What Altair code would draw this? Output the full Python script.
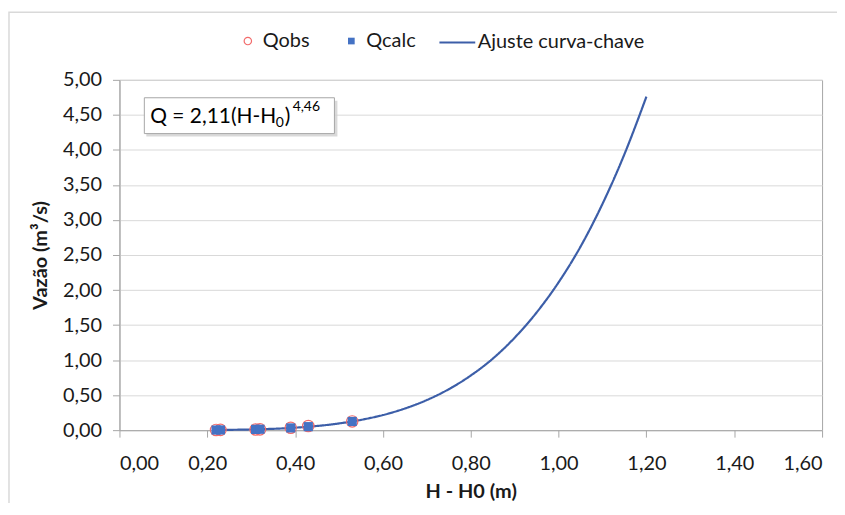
import altair as alt
import pandas as pd

# Observed / calculated points
H_pts = [0.22, 0.23, 0.31, 0.32, 0.39, 0.43, 0.53]
Q_obs = [0.003, 0.004, 0.009, 0.011, 0.035, 0.060, 0.125]
Q_calc = [0.002, 0.003, 0.011, 0.013, 0.032, 0.050, 0.124]

# Fitted rating curve
H_fit = [0.22, 0.30, 0.40, 0.50, 0.55, 0.60, 0.65, 0.70, 0.75, 0.80,
         0.85, 0.90, 0.95, 1.00, 1.05, 1.10, 1.15, 1.20]
Q_fit = [0.003, 0.010, 0.035, 0.096, 0.147, 0.216, 0.309, 0.430, 0.585, 0.780,
         1.02, 1.32, 1.68, 2.11, 2.62, 3.23, 3.94, 4.76]

x_ticks = [0, 0.2, 0.4, 0.6, 0.8, 1.0, 1.2, 1.4, 1.6]
y_ticks = [0, 0.5, 1, 1.5, 2, 2.5, 3, 3.5, 4, 4.5, 5]

obs = pd.DataFrame({"H": H_pts, "Q": Q_obs, "serie": ["Qobs"] * len(H_pts)})
calc = pd.DataFrame({"H": H_pts, "Q": Q_calc, "serie": ["Qcalc"] * len(H_pts)})
fit = pd.DataFrame({"H": H_fit, "Q": Q_fit, "serie": ["Ajuste curva-chave"] * len(H_fit)})

W, H = 706, 352
FONT = "Lato"
RED = "#F26B6B"
BLUE = "#4472C4"
LINE = "#3C5EA8"

xs = alt.Scale(domain=[0, 1.6], nice=False)
ys = alt.Scale(domain=[0, 5], nice=False)
fmt = "replace(format(datum.value, '.2f'), '.', ',')"

x_enc = alt.X("H:Q", scale=xs, axis=alt.Axis(
    title="H - H0 (m)", values=x_ticks, labelExpr=fmt, grid=False,
    tickSize=7, labelPadding=17, titlePadding=8))
y_enc = alt.Y("Q:Q", scale=ys, axis=alt.Axis(
    title="Vazão (m³/s)", values=y_ticks, labelExpr=fmt, grid=True,
    tickSize=7, labelPadding=11, titlePadding=12))


def leg(x, y, offset, stype, ssize, **kw):
    return alt.Legend(orient="none", legendX=x, legendY=y, title=None, labelLimit=400,
                      symbolType=stype, symbolSize=ssize, labelOffset=offset, **kw)


obs_layer = alt.Chart(obs).mark_point(filled=False, size=130, strokeWidth=1.2, opacity=1).encode(
    x=x_enc, y=y_enc,
    stroke=alt.Stroke("serie:N", scale=alt.Scale(domain=["Qobs"], range=[RED]),
                      legend=leg(119, -49, 5, "circle", 55, symbolStrokeWidth=1.2, symbolFillColor="transparent")),
)
calc_layer = alt.Chart(calc).mark_square(size=85, opacity=1).encode(
    x=x_enc, y=y_enc,
    fill=alt.Fill("serie:N", scale=alt.Scale(domain=["Qcalc"], range=[BLUE]),
                  legend=leg(223, -49, 5, "square", 45)),
)
line_layer = alt.Chart(fit).mark_line(color=LINE, strokeWidth=2.2, interpolate="monotone").encode(
    x=x_enc, y=y_enc,
    strokeDash=alt.StrokeDash("serie:N", scale=alt.Scale(domain=["Ajuste curva-chave"], range=[[1, 0]]),
                              legend=leg(320, -57, 1, "stroke", 1296, symbolStrokeColor=LINE, symbolStrokeWidth=2.2)),
)

# annotation box
ann = pd.DataFrame({"k": [0]})
shadow = alt.Chart(ann).mark_rect(fill="#cfcfcf", opacity=0.8).encode(
    x=alt.value(27), x2=alt.value(219), y=alt.value(21), y2=alt.value(57))
box = alt.Chart(ann).mark_rect(fill="white", stroke="#a6a6a6", strokeWidth=1).encode(
    x=alt.value(25), x2=alt.value(216), y=alt.value(18), y2=alt.value(54))
t_main = alt.Chart(ann).mark_text(align="left", baseline="alphabetic", fontSize=21, font=FONT, color="#000").encode(
    x=alt.value(31), y=alt.value(43), text=alt.value("Q = 2,11(H-H"))
t_sub = alt.Chart(ann).mark_text(align="left", baseline="alphabetic", fontSize=14, font=FONT, color="#000").encode(
    x=alt.value(157), y=alt.value(47), text=alt.value("0"))
t_par = alt.Chart(ann).mark_text(align="left", baseline="alphabetic", fontSize=21, font=FONT, color="#000").encode(
    x=alt.value(166), y=alt.value(43), text=alt.value(")"))
t_sup = alt.Chart(ann).mark_text(align="left", baseline="alphabetic", fontSize=14, font=FONT, color="#000").encode(
    x=alt.value(174), y=alt.value(31), text=alt.value("4,46"))

# outer chart border
outer = alt.Chart(ann).mark_rect(fill="transparent", stroke="#d9d9d9", strokeWidth=1.5, clip=False).encode(
    x=alt.value(-111), x2=alt.value(W + 300), y=alt.value(-68), y2=alt.value(H + 300))

chart = alt.layer(outer, line_layer, obs_layer, calc_layer, shadow, box, t_main, t_sub, t_par, t_sup).resolve_legend(
    stroke="independent", fill="independent", strokeDash="independent"
).properties(
    width=W, height=H, background="white",
    autosize=alt.AutoSizeParams(type="none"),
    padding={"left": 112, "top": 71, "right": 15, "bottom": 72},
).configure_view(stroke="#a6a6a6", strokeWidth=1).configure_axis(
    labelFont=FONT, labelFontSize=20, labelColor="#1a1a1a",
    titleFont=FONT, titleFontSize=20, titleFontWeight="bold", titleColor="#1a1a1a",
    domainColor="#a6a6a6", tickColor="#a6a6a6", gridColor="#d9d9d9",
).configure_legend(
    padding=0, labelFont=FONT, labelFontSize=20, labelColor="#1a1a1a",
)

chart.save("out.html", embed_options={"renderer": "svg", "actions": False})
